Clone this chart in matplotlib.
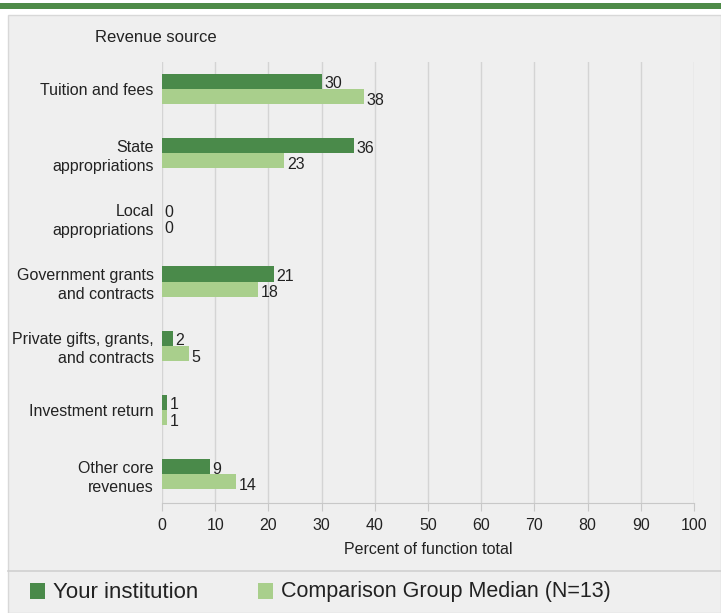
import matplotlib
matplotlib.use("Agg")
import matplotlib.pyplot as plt
from matplotlib.patches import Rectangle
from matplotlib.lines import Line2D

categories = ["Tuition and fees", "State\nappropriations", "Local\nappropriations",
              "Government grants\nand contracts", "Private gifts, grants,\nand contracts",
              "Investment return", "Other core\nrevenues"]
your_inst = [30, 36, 0, 21, 2, 1, 9]
comparison = [38, 23, 0, 18, 5, 1, 14]
xticks = [0, 10, 20, 30, 40, 50, 60, 70, 80, 90, 100]

W, H = 721, 613
plt.rcParams['font.family'] = ['Liberation Sans', 'DejaVu Sans']
fig = plt.figure(figsize=(W / 100, H / 100), dpi=100)
fig.patch.set_facecolor("white")

def fx(px):
    return px / W

def fy(py):
    return 1 - py / H

# background panel
fig.patches.append(Rectangle((fx(8), fy(613)), fx(713), fy(15) - fy(613),
                             transform=fig.transFigure, facecolor="#efefef",
                             edgecolor="#d8d8d8", lw=1, zorder=-5))
# top green bar
fig.patches.append(Rectangle((0, fy(9)), 1, fy(3) - fy(9), transform=fig.transFigure,
                             facecolor="#4e8b48", edgecolor="none", zorder=-4))
# legend separator
fig.lines.append(Line2D([fx(8), 1], [fy(571), fy(571)], transform=fig.transFigure,
                        color="#d0d0d0", lw=1.2, zorder=-4))

dark = "#4a8a4a"
light = "#a9cf8c"

ax = fig.add_axes([fx(162), fy(503), fx(694) - fx(162), fy(62) - fy(503)])
ax.set_zorder(2)
ax.set_facecolor("none")
ax.set_xlim(0, 100)
n = len(categories)
ax.set_ylim(6.45, -0.42)
h = 0.235
ys = list(range(n))
ax.barh([y - h / 2 for y in ys], your_inst, height=h, color=dark, zorder=3)
ax.barh([y + h / 2 for y in ys], comparison, height=h, color=light, zorder=3)
for y, v in zip(ys, your_inst):
    ax.text(v + 0.5, y - h / 2 + 0.04, str(v), va="center", ha="left", fontsize=11.5,
            color="#222222", zorder=4)
for y, v in zip(ys, comparison):
    ax.text(v + 0.5, y + h / 2 + 0.06, str(v), va="center", ha="left", fontsize=11.5,
            color="#222222", zorder=4)

ax.set_yticks(ys)
ax.set_yticklabels(categories, fontsize=11.5, color="#222222", linespacing=1.35)
ax.tick_params(axis="y", length=0, pad=6)
ax.set_xticks(xticks)
ax.set_xticklabels([str(t) for t in xticks], fontsize=11.5, color="#222222")
ax.tick_params(axis="x", length=6, color="#c8c8c8", pad=5, direction="out")
ax.grid(axis="x", color="#d4d4d4", lw=1, zorder=0)
ax.set_axisbelow(True)
for s in ["top", "right", "left"]:
    ax.spines[s].set_visible(False)
ax.spines["bottom"].set_color("#c8c8c8")
ax.set_xlabel("Percent of function total", fontsize=11.5, color="#222222", labelpad=6)

fig.text(fx(95), fy(38), "Revenue source", fontsize=12, color="#222222", va="center", ha="left")

# legend
fig.patches.append(Rectangle((fx(30), fy(599)), fx(15), fy(583) - fy(599), transform=fig.transFigure,
                             facecolor=dark, edgecolor="none"))
fig.text(fx(53), fy(592), "Your institution", fontsize=16, color="#222222", va="center", ha="left")
fig.patches.append(Rectangle((fx(258), fy(599)), fx(15), fy(583) - fy(599), transform=fig.transFigure,
                             facecolor=light, edgecolor="none"))
fig.text(fx(281), fy(592), "Comparison Group Median (N=13)", fontsize=15.5, color="#222222",
         va="center", ha="left")

fig.savefig("out.png", dpi=100)
